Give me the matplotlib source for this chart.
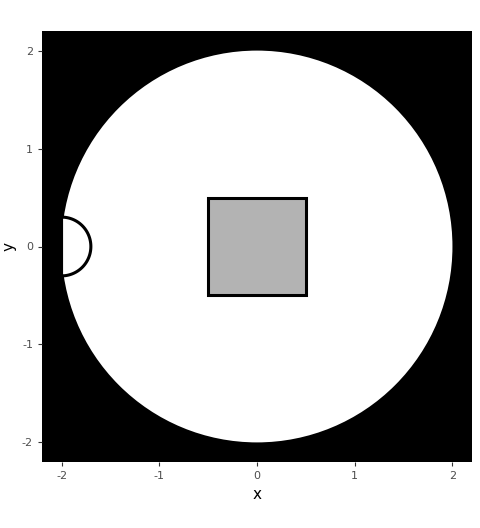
import numpy as np
import matplotlib
matplotlib.use("Agg")
import matplotlib.pyplot as plt
from matplotlib.patches import Circle, Rectangle, Polygon

big_center = (0.0, 0.0)
big_radius = 2.0
square_corner = (-0.5, -0.5)
square_side = 1.0
half_center = (-2.0, 0.0)
half_radius = 0.3
ticks = [-2, -1, 0, 1, 2]

fig = plt.figure(figsize=(4.8, 5.28), dpi=100)
ax = fig.add_axes([42/480, 1-462/528, 430/480, 431/528])
ax.set_facecolor("black")

ax.add_patch(Circle(big_center, big_radius, facecolor="white", edgecolor="none"))
ax.add_patch(Rectangle(square_corner, square_side, square_side,
                       facecolor="#b3b3b3", edgecolor="black", lw=2.2))
t = np.linspace(-np.pi/2, np.pi/2, 100)
pts = np.column_stack([half_center[0] + half_radius*np.cos(t),
                       half_center[1] + half_radius*np.sin(t)])
ax.add_patch(Polygon(pts, closed=True, facecolor="white", edgecolor="black", lw=2.2))

ax.set_xlim(-2.2, 2.2)
ax.set_ylim(-2.2, 2.2)
ax.set_xticks(ticks)
ax.set_yticks(ticks)
ax.set_xticklabels([str(v) for v in ticks])
ax.set_yticklabels([str(v) for v in ticks])
ax.tick_params(colors="#4d4d4d", labelsize=8, length=3)
ax.tick_params(axis="both", color="#333333")
for s in ax.spines.values():
    s.set_visible(False)
ax.set_xlabel("x", fontsize=11)
ax.set_ylabel("y", fontsize=11)
fig.savefig("out.png")
